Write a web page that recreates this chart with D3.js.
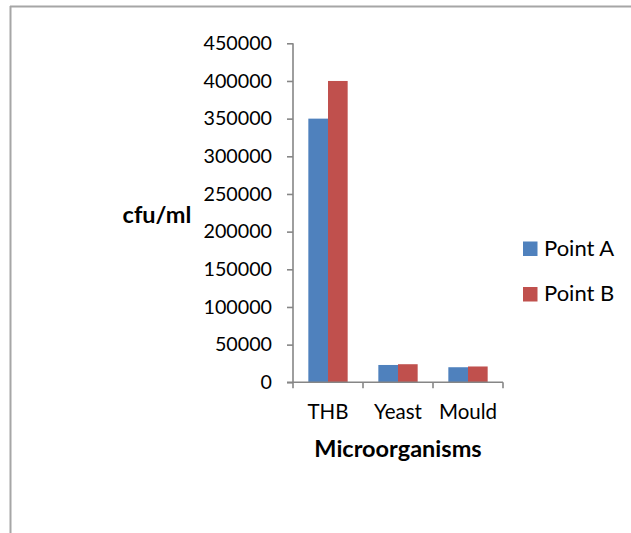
<!DOCTYPE html>
<html>
<head>
<meta charset="utf-8">
<script src="https://cdn.jsdelivr.net/npm/d3@7"></script>
<style>
html,body{margin:0;padding:0;background:#fff;}
svg{display:block;}
text{font-family:Lato, "Open Sans", sans-serif;fill:#000;}
</style>
</head>
<body>
<svg id="chart" width="631" height="533"></svg>
<script>
const categories = ["THB", "Yeast", "Mould"];
const seriesNames = ["Point A", "Point B"];
const pointA = [350000, 23000, 20000];
const pointB = [400000, 24000, 21000];
const yTicks = [0, 50000, 100000, 150000, 200000, 250000, 300000, 350000, 400000, 450000];
const colors = ["#4F81BD", "#C0504D"];

const svg = d3.select("#chart");

// outer frame (top and left edges visible)
svg.append("line").attr("x1", 10).attr("x2", 631).attr("y1", 6.5).attr("y2", 6.5)
  .attr("stroke", "#a6a6a6").attr("stroke-width", 2);
svg.append("line").attr("x1", 10.5).attr("x2", 10.5).attr("y1", 6).attr("y2", 533)
  .attr("stroke", "#a6a6a6").attr("stroke-width", 2);

const x0 = d3.scaleBand().domain(categories).range([293, 503]).paddingInner(0).paddingOuter(0);
const x1 = d3.scaleBand().domain(seriesNames).range([0, x0.bandwidth()]).paddingInner(0).paddingOuter(0.78);
const y = d3.scaleLinear().domain([0, 450000]).range([382.3, 43.3]);

const data = categories.map((c, i) => ({cat: c, vals: [pointA[i], pointB[i]]}));

const g = svg.append("g");
g.selectAll("g.grp").data(data).join("g").attr("class", "grp")
  .attr("transform", d => `translate(${x0(d.cat)},0)`)
  .selectAll("rect").data(d => d.vals.map((v, j) => ({v, s: seriesNames[j], c: colors[j]})))
  .join("rect")
  .attr("x", d => x1(d.s))
  .attr("width", x1.bandwidth())
  .attr("y", d => y(d.v))
  .attr("height", d => y(0) - y(d.v))
  .attr("fill", d => d.c);

// y axis
const yAxis = d3.axisLeft(y).tickValues(yTicks).tickSize(6).tickPadding(15).tickFormat(d3.format("d"));
const ya = svg.append("g").attr("transform", "translate(293,0)").call(yAxis);
ya.select(".domain").attr("stroke", "#868686").attr("stroke-width", 1.6).attr("d", `M0,${y(450000)}V${y(0)}`);
ya.selectAll(".tick line").attr("stroke", "#868686").attr("stroke-width", 1.6);
ya.selectAll(".tick text").style("font-family", "Lato").style("font-size", "19.7px").attr("fill", "#000");

// x axis
const xa = svg.append("g").attr("transform", `translate(0,${y(0)})`);
xa.append("line").attr("x1", 287).attr("x2", 503).attr("y1", 0).attr("y2", 0)
  .attr("stroke", "#868686").attr("stroke-width", 1.6);
const xTickPos = categories.map(c => x0(c)).concat([x0(categories[categories.length - 1]) + x0.bandwidth()]);
xa.selectAll("line.xt").data(xTickPos).join("line").attr("class", "xt")
  .attr("x1", d => d).attr("x2", d => d).attr("y1", 0).attr("y2", 6)
  .attr("stroke", "#868686").attr("stroke-width", 1.6);
xa.selectAll("text.xl").data(categories).join("text").attr("class", "xl")
  .attr("x", d => x0(d) + x0.bandwidth() / 2)
  .attr("y", 37)
  .attr("text-anchor", "middle")
  .style("font-size", "20.5px")
  .text(d => d);

// axis titles
svg.append("text").attr("x", 157).attr("y", 223).attr("text-anchor", "middle")
  .style("font-size", "23.5px").style("font-weight", "bold").text("cfu/ml");
svg.append("text").attr("x", 398).attr("y", 457).attr("text-anchor", "middle")
  .style("font-size", "23.5px").style("font-weight", "bold").text("Microorganisms");

// legend
const lg = svg.append("g");
seriesNames.forEach((s, i) => {
  const yy = 241.5 + i * 45.5;
  lg.append("rect").attr("x", 523).attr("y", yy).attr("width", 14.5).attr("height", 14.5).attr("fill", colors[i]);
  lg.append("text").attr("x", 544).attr("y", yy + 14).style("font-size", "22px").text(s);
});
</script>
</body>
</html>
